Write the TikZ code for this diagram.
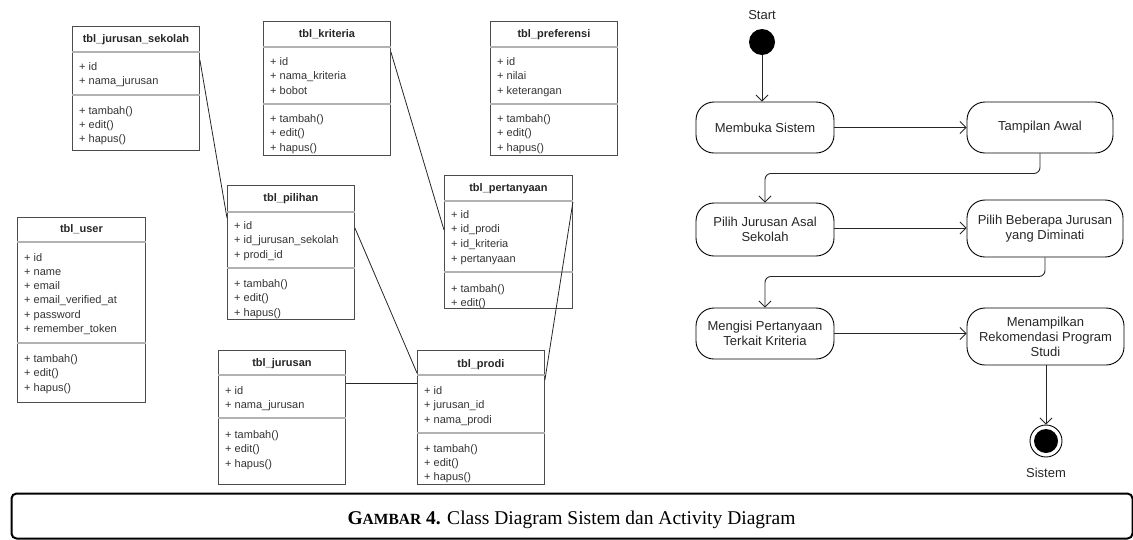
\documentclass[tikz,border=0pt]{standalone}
\usepackage{fontspec}
\setmainfont{Liberation Sans}
\newfontfamily\capfont{Liberation Serif}
\usetikzlibrary{arrows.meta}

\tikzset{
 clsbox/.style={draw=black!70, line width=0.9pt, anchor=north west, inner sep=0},
 divline/.style={draw=black!30, line width=1.2pt},
 clstitle/.style={font=\fontsize{11}{13}\selectfont\bfseries, text=black!85, inner sep=0, anchor=base},
 clsitem/.style={font=\fontsize{11}{13}\selectfont, text=black!80, inner sep=0, anchor=base west},
 rel/.style={draw=black!85, line width=0.8pt},
 act/.style={draw=black, line width=0.9pt, rounded corners=18pt, align=center, font=\fontsize{13}{15}\selectfont, text=black!85, inner sep=2pt},
 arr/.style={draw=black!85, line width=0.9pt, -{Straight Barb[length=6pt,width=12pt]}, rounded corners=6pt},
 lbl/.style={font=\fontsize{13}{15}\selectfont, text=black!85, inner sep=0},
}

% #1 id, #2 x, #3 y, #4 w, #5 h, #6 header divider y, #7 attribute divider y, #8 title centre y, #9 title
\newcommand\umlclass[9]{%
 \node[clsbox, minimum width=#4pt, minimum height=#5pt] (#1) at (#2,#3) {};
 \draw[divline] (#1.west |- 0,#6) -- (#1.east |- 0,#6);
 \draw[divline] (#1.west |- 0,#7) -- (#1.east |- 0,#7);
 \node[clstitle] (#1-t) at (#1.north |- 0,#8+4) {#9};}

% #1 name prefix, #2 x, #3 first centre y, #4 step, #5 list
\newcommand\umlitems[5]{%
 \foreach \itm [count=\i, evaluate=\i as \yy using #3+(\i-1)*#4+4] in {#5}
   \node[clsitem] (#1\i) at (#2,\yy) {\itm};}

\begin{document}
\begin{tikzpicture}[x=1pt,y=-1pt]
\useasboundingbox (0,0) rectangle (1133,539);

% ---------------- class diagram ----------------
\umlclass{js}{72}{26}{127}{124}{52}{95}{38}{tbl\_jurusan\_sekolah}
\umlitems{js-a}{79}{66}{14.5}{+ id, + nama\_jurusan}
\umlitems{js-m}{79}{110}{14}{+ tambah(), + edit(), + hapus()}

\umlclass{kr}{263}{21}{127}{134}{47}{104}{33}{tbl\_kriteria}
\umlitems{kr-a}{270}{61}{14.5}{+ id, + nama\_kriteria, + bobot}
\umlitems{kr-m}{270}{118}{14.5}{+ tambah(), + edit(), + hapus()}

\umlclass{pf}{490}{21}{127}{134}{47}{104}{33}{tbl\_preferensi}
\umlitems{pf-a}{497}{61}{14.5}{+ id, + nilai, + keterangan}
\umlitems{pf-m}{497}{118}{14.5}{+ tambah(), + edit(), + hapus()}

\umlclass{pt}{444}{175}{128}{133}{201}{272}{187}{tbl\_pertanyaan}
\umlitems{pt-a}{451}{214}{14.8}{+ id, + id\_prodi, + id\_kriteria, + pertanyaan}
\umlitems{pt-m}{451}{288}{14}{+ tambah(), + edit()}

\umlclass{pl}{227}{185}{127}{134}{212}{268}{197}{tbl\_pilihan}
\umlitems{pl-a}{234}{225}{14.5}{+ id, + id\_jurusan\_sekolah, + prodi\_id}
\umlitems{pl-m}{234}{283}{14.5}{+ tambah(), + edit(), + hapus()}

\umlclass{us}{17}{217}{128}{185}{242}{343}{228}{tbl\_user}
\umlitems{us-a}{24}{257}{14.3}{+ id, + name, + email, + email\_verified\_at, + password, + remember\_token}
\umlitems{us-m}{24}{358}{14.5}{+ tambah(), + edit(), + hapus()}

\umlclass{ju}{218}{350}{127}{134}{375}{418}{362}{tbl\_jurusan}
\umlitems{ju-a}{225}{390}{14.5}{+ id, + nama\_jurusan}
\umlitems{ju-m}{225}{434}{14.5}{+ tambah(), + edit(), + hapus()}

\umlclass{pr}{417}{350}{127}{134}{375}{433}{363}{tbl\_prodi}
\umlitems{pr-a}{424}{390}{14.5}{+ id, + jurusan\_id, + nama\_prodi}
\umlitems{pr-m}{424}{448}{14}{+ tambah(), + edit(), + hapus()}

% relations
\draw[rel] (js.east |- 0,60) -- (pl.west |- 0,218);
\draw[rel] (kr.east |- 0,52) -- (pt.west |- 0,230);
\draw[rel] (pl.east |- 0,228) -- (pr.west |- 0,373);
\draw[rel] (ju.east |- 0,383) -- (pr.west |- 0,383);
\draw[rel] (pt.east |- 0,202) -- (pr.east |- 0,380);

% ---------------- activity diagram ----------------
\node[lbl] (stl) at (762,15) {Start};
\node[circle, fill=black, minimum size=26pt, inner sep=0] (st) at (762,42) {};

\node[act, minimum width=138pt, minimum height=51pt] (a1) at (765,127.5) {Membuka Sistem};
\node[act, minimum width=146pt, minimum height=51pt] (a2) at (1040,127.5) {Tampilan Awal};
\node[act, minimum width=138pt, minimum height=53pt] (a3) at (765,229.5) {Pilih Jurusan Asal\\Sekolah};
\node[act, minimum width=156pt, minimum height=57pt] (a4) at (1045,228.5) {Pilih Beberapa Jurusan\\yang Diminati};
\node[act, minimum width=138pt, minimum height=51pt] (a5) at (765,333.5) {Mengisi Pertanyaan\\Terkait Kriteria};
\node[act, minimum width=157pt, minimum height=57pt] (a6) at (1045.5,336.5) {Menampilkan\\Rekomendasi Program\\Studi};

\node[circle, draw=black, line width=0.9pt, minimum size=32pt, inner sep=0] (en) at (1046,441) {};
\node[circle, fill=black, minimum size=24pt, inner sep=0] (eni) at (en.center) {};
\node[lbl] (enl) at (1046,473) {Sistem};

\draw[arr] (st.south) -- (a1.north -| st.south);
\draw[arr] (a1.east) -- (a2.west |- a1.east);
\draw[arr] (a2.south) -- ++(0,20) -| (a3.north);
\draw[arr] (a3.east |- 0,228) -- (a4.west |- 0,228);
\draw[arr] (a4.south) -- ++(0,19) -| (a5.north);
\draw[arr] (a5.east) -- (a6.west |- a5.east);
\draw[arr] (a6.south -| en.north) -- (en.north);

% ---------------- caption ----------------
\node[draw=black, line width=2pt, rounded corners=5pt, minimum width=1121pt, minimum height=45pt, anchor=north west, inner sep=0] (capbox) at (10.5,492.5) {};
\node[anchor=base, inner sep=0, font=\capfont\fontsize{19.5}{22}\selectfont] (cap) at (571.5,524)
 {{\bfseries G{\fontsize{15.5}{18}\selectfont AMBAR} 4.} Class Diagram Sistem dan Activity Diagram};
\end{tikzpicture}
\end{document}
